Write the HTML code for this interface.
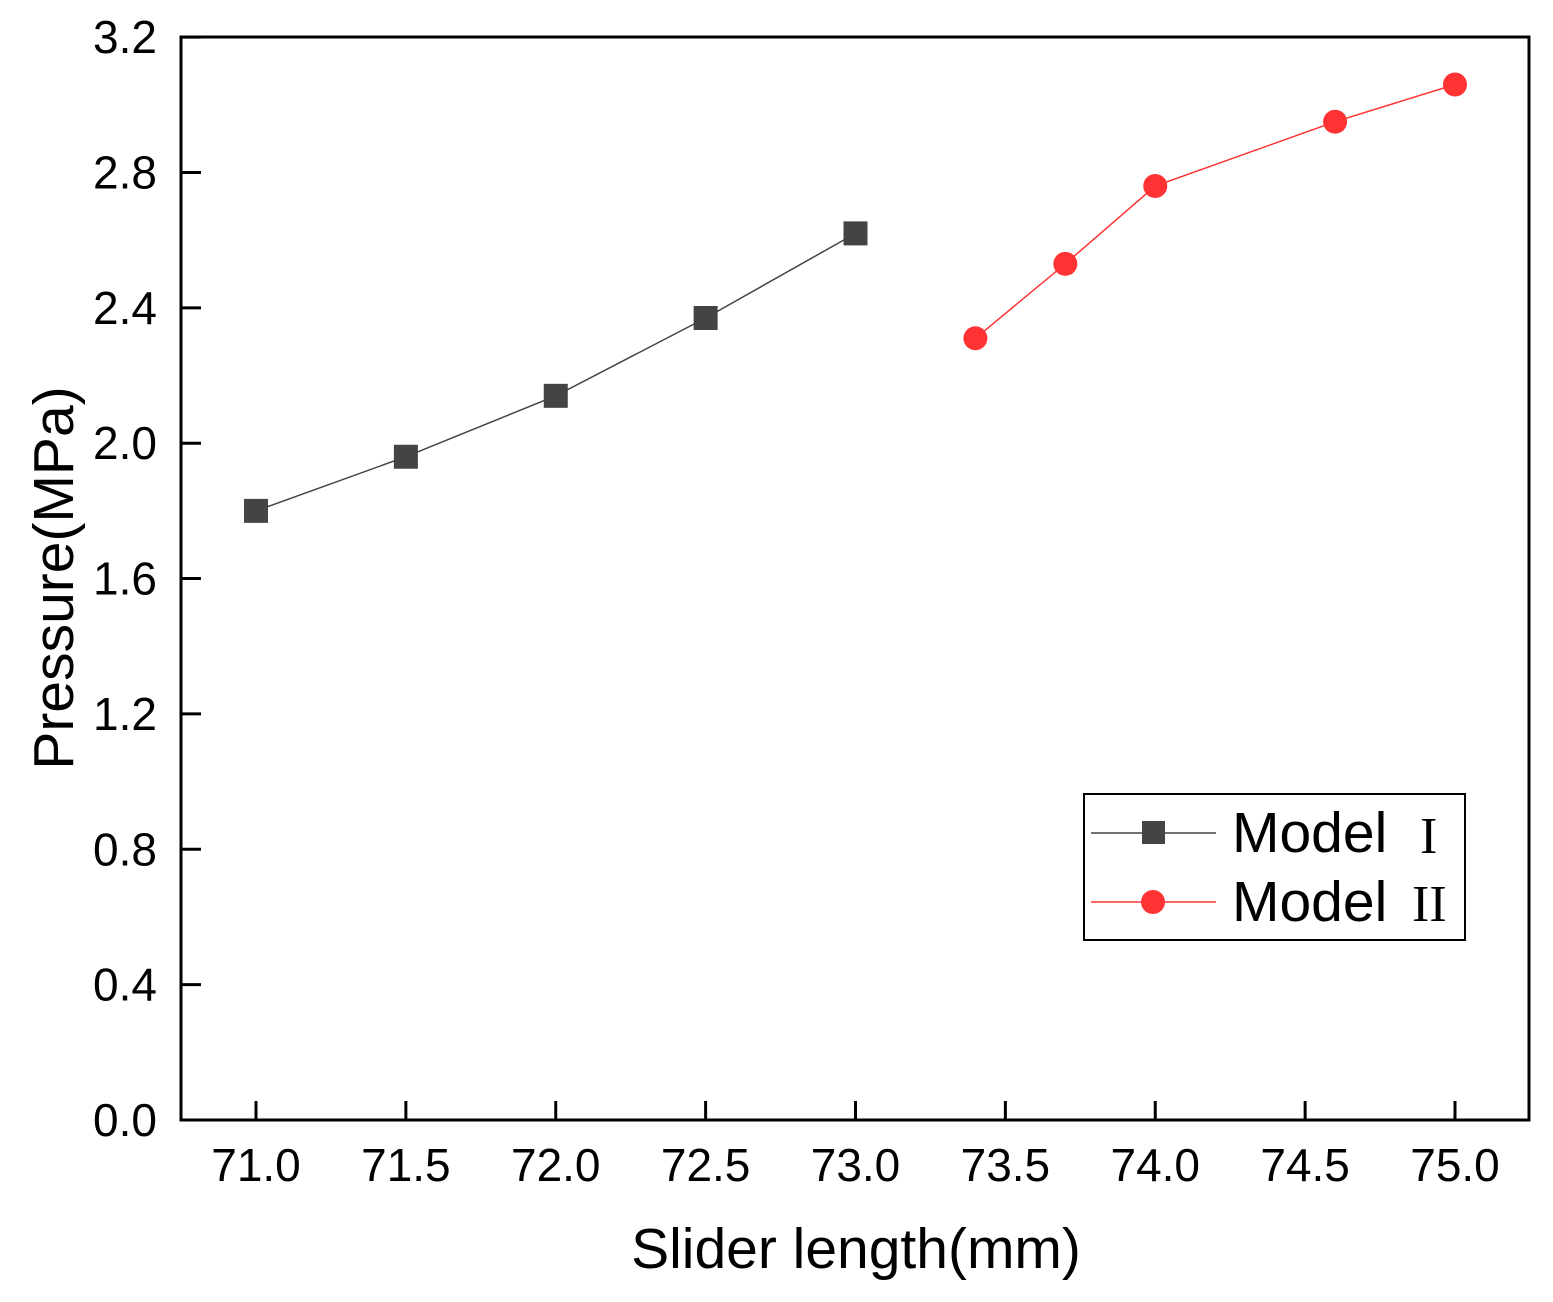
<!DOCTYPE html>
<html><head><meta charset="utf-8"><style>body{margin:0;background:#fff}svg{display:block}text{font-family:"Liberation Sans",Arial,sans-serif}</style></head>
<body>
<svg id="chart" width="1553" height="1302" viewBox="0 0 1553 1302" xmlns="http://www.w3.org/2000/svg">
<g id="axes"></g><g id="series"></g>
<g>
<rect x="1084" y="794" width="381" height="146" fill="#fff" stroke="#000" stroke-width="2"/>
<line x1="1091" y1="833" x2="1216" y2="833" stroke="#444" stroke-width="1.5"/>
<rect x="1142" y="821" width="23" height="23" fill="#444"/>
<text x="1232" y="852" font-size="57">Model</text>
<text x="1420" y="853" font-size="52" style="font-family:'Liberation Serif',serif">I</text>
<line x1="1091" y1="902" x2="1216" y2="902" stroke="#f33" stroke-width="1.5"/>
<circle cx="1153" cy="902" r="12" fill="#f33"/>
<text x="1232" y="921" font-size="57">Model</text>
<text x="1412" y="921" font-size="52" style="font-family:'Liberation Serif',serif">II</text>
</g>
<text x="856" y="1268" font-size="57" text-anchor="middle">Slider length(mm)</text>
<text transform="translate(73,578) rotate(-90)" font-size="57" text-anchor="middle">Pressure(MPa)</text>
</svg>
<script>
const xTicks=[71.0,71.5,72.0,72.5,73.0,73.5,74.0,74.5,75.0];
const yTicks=[0.0,0.4,0.8,1.2,1.6,2.0,2.4,2.8,3.2];
const m1x=[71.0,71.5,72.0,72.5,73.0];
const m1y=[1.80,1.96,2.14,2.37,2.62];
const m2x=[73.4,73.7,74.0,74.6,75.0];
const m2y=[2.31,2.53,2.76,2.95,3.06];
const NS="http://www.w3.org/2000/svg";
const X=v=>256+(v-71)*299.75, Y=v=>1120-v*338.4;
function mk(t,a,p){const e=document.createElementNS(NS,t);for(const k in a)e.setAttribute(k,a[k]);p.appendChild(e);return e;}
const ax=document.getElementById('axes'), se=document.getElementById('series');
const fr=mk('rect',{x:181,y:37,width:1348,height:1083,fill:'none',stroke:'#000','stroke-width':3},ax);


xTicks.forEach(v=>{
 const l=mk('line',{x1:X(v),x2:X(v),y1:1120,y2:1101,stroke:'#000','stroke-width':3},ax);
 
 
 const t=mk('text',{x:X(v),y:1181,'font-size':46,'text-anchor':'middle'},ax);t.textContent=v.toFixed(1);
 
 
});
yTicks.forEach(v=>{
 const l=mk('line',{x1:181,x2:201,y1:Y(v),y2:Y(v),stroke:'#000','stroke-width':3},ax);
 
 
 const t=mk('text',{x:157,y:Y(v)+16,'font-size':46,'text-anchor':'end'},ax);t.textContent=v.toFixed(1);
 
 
});
const p1=mk('polyline',{points:m1x.map((x,i)=>X(x)+','+Y(m1y[i])).join(' '),fill:'none',stroke:'#444','stroke-width':1.5},se);


m1x.forEach((x,i)=>{const r=mk('rect',{x:X(x)-12,y:Y(m1y[i])-12,width:24,height:24,fill:'#444'},se);
 
 });
const p2=mk('polyline',{points:m2x.map((x,i)=>X(x)+','+Y(m2y[i])).join(' '),fill:'none',stroke:'#f33','stroke-width':1.5},se);


m2x.forEach((x,i)=>{const c=mk('circle',{cx:X(x),cy:Y(m2y[i]),r:12,fill:'#f33'},se);
 
 });
</script>
</body></html>
